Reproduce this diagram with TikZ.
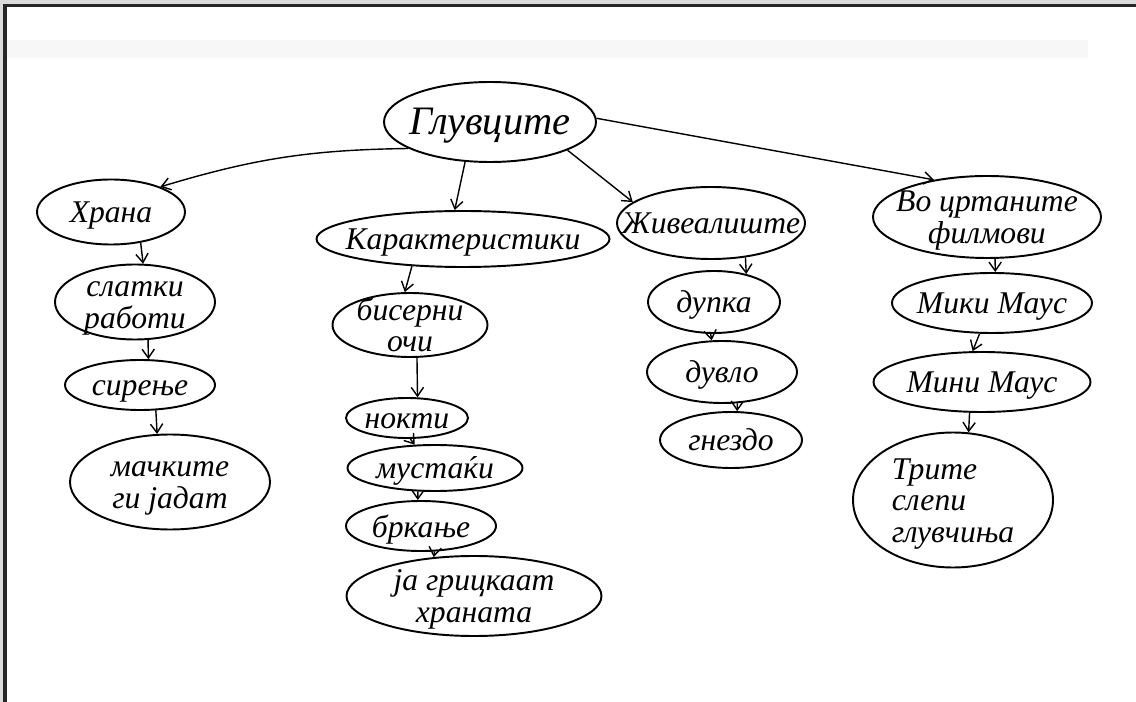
\documentclass[tikz,border=0pt]{standalone}
\usepackage{fontspec}
\setmainfont{Liberation Serif}[Script=Cyrillic,Language=Macedonian]
\usetikzlibrary{arrows.meta,shapes.geometric}
\newcommand{\hw}[2][c]{\smash{\raisebox{-0.38em}{\makebox[0pt]{\begin{tabular}{@{}#1@{}}#2\end{tabular}}}}}

\begin{document}
\begin{tikzpicture}[x=0.02cm,y=-0.02cm,
    blob/.style={draw,ellipse,inner sep=0pt,line width=1.1pt,font=\fontsize{18}{18}\selectfont\itshape},
    wh/.style 2 args={minimum width=#1*0.02cm,minimum height=#2*0.02cm},
    arr/.style={-{Straight Barb[length=5pt,width=7pt]},line width=0.8pt}]
  \useasboundingbox (0,0) rectangle (1136,702);
  \fill[black!14] (0,0) rectangle (1136,4);
  \fill[black!14] (0,0) rectangle (3,702);
  \fill[black!85] (3,4) rectangle (1136,7);
  \fill[black!85] (3,4) rectangle (7,702);
  \fill[black!3] (7,40) rectangle (1088,58);

  \node[blob,wh={212}{80},font=\fontsize{23}{23}\selectfont\itshape] (mice) at (490,122) {\hw{Глувците}};
  \node[blob,wh={148}{65}] (food) at (111,212) {\hw{Храна}};
  \node[blob,wh={293}{56}] (traits) at (463,239) {\hw{Карактеристики}};
  \node[blob,wh={188}{72}] (home) at (711,223) {\hw{Живеалиште}};
  \node[blob,wh={228}{82}] (cartoons) at (987,217) {\hw{Во цртаните\\филмови}};

  \node[blob,wh={160}{75}] (sweets) at (135,302) {\hw{слатки\\работи}};
  \node[blob,wh={150}{50}] (cheese) at (140,385) {\hw{сирење}};
  \node[blob,wh={200}{95}] (cats) at (170,482) {\hw{мачките\\ги јадат}};

  \node[blob,wh={155}{64}] (eyes) at (410,325) {\hw{бисерни\\очи}};
  \node[blob,wh={122}{40}] (nails) at (407,418) {\hw{нокти}};
  \node[blob,wh={175}{46}] (whisk) at (435,468) {\hw{мустаќи}};
  \node[blob,wh={150}{50}] (chase) at (421,526) {\hw{бркање}};
  \node[blob,wh={255}{80}] (nibble) at (474,596) {\hw{ја грицкаат\\храната}};

  \node[blob,wh={132}{62}] (hole) at (714,302) {\hw{дупка}};
  \node[blob,wh={150}{62}] (den) at (722,372) {\hw{дувло}};
  \node[blob,wh={142}{56}] (nest) at (731,440) {\hw{гнездо}};

  \node[blob,wh={200}{60}] (mickey) at (992,303) {\hw{Мики Маус}};
  \node[blob,wh={217}{60}] (minnie) at (982,382) {\hw{Мини Маус}};
  \node[blob,wh={200}{135}] (blind) at (953,500) {\hw[l]{Трите\\слепи\\глувчиња}};

  \draw[arr] (mice.198) to[bend right=8] (food.27);
  \draw[arr] (mice.238) -- (traits.106);
  \draw[arr] (mice.-20) -- (home.165);
  \draw[arr] (mice.2) -- (cartoons.145);
  \draw[arr] (food.-46) -- (sweets.78);
  \draw[arr] (sweets.-71) -- (cheese.72);
  \draw[arr] (cheese.-58) -- (cats.105);
  \draw[arr] (traits.208) -- (eyes.99);
  \draw[arr] (eyes.-78) -- (nails.63);
  \draw[arr] (nails.-81) -- (whisk.131);
  \draw[arr] (whisk.234) -- (chase.97);
  \draw[arr] (chase.-62) -- (nibble.136);
  \draw[arr] (home.-45) -- (hole.41);
  \draw[arr] (hole.264) -- (den.108);
  \draw[arr] (den.-64) -- (nest.78);
  \draw[arr] (cartoons.-79) -- (mickey.84);
  \draw[arr] (mickey.248) -- (minnie.107);
  \draw[arr] (minnie.248) -- (blind.77);
\end{tikzpicture}
\end{document}
